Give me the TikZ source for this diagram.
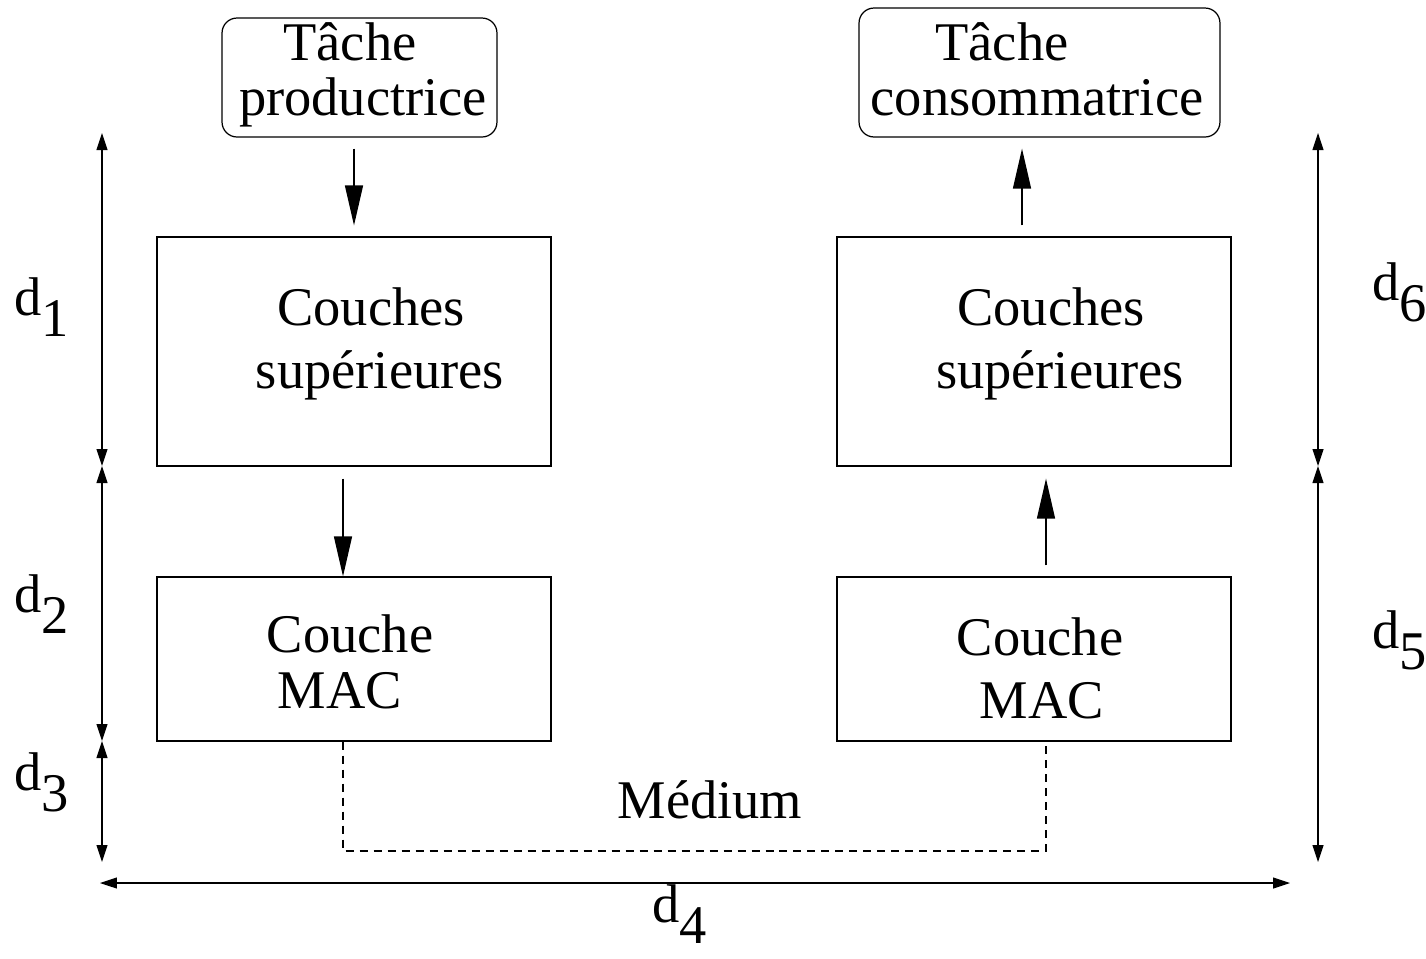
\documentclass[tikz,border=0pt]{standalone}
\usepackage{fontspec}
\setmainfont{Liberation Serif}
\usetikzlibrary{arrows.meta}
\newcommand{\dsub}[1]{d\raisebox{-0.4em}{#1}}

\begin{document}
\begin{tikzpicture}[
    x=0.02cm, y=-0.02cm,
    every node/.style={font=\fontsize{31}{32}\selectfont},
    task/.style={rectangle, draw, rounded corners=0.3cm, inner sep=0pt, line width=0.7pt},
    layer/.style={rectangle, draw, inner sep=0pt, minimum width=7.88cm, line width=0.7pt},
    txt/.style={anchor=base, inner sep=0pt},
    flow/.style={line width=0.8pt, -{Triangle[length=0.8cm, width=0.36cm]}},
    dim/.style={line width=0.6pt, {Triangle[length=0.34cm, width=0.22cm]}-{Triangle[length=0.34cm, width=0.22cm]}},
    medium/.style={line width=0.6pt, dash pattern=on 0.16cm off 0.12cm}
]
    \useasboundingbox (0,0) rectangle (1426,958);

    % Tasks
    \node [task, minimum width=5.5cm, minimum height=2.38cm] (prod) at (359.5,77.5) {};
    \node [task, minimum width=7.22cm, minimum height=2.58cm] (cons) at (1039.5,72.5) {};
    \node [txt] (prodA) at (350,60) {Tâche};
    \node [txt] (prodB) at (363,115) {productrice};
    \node [txt] (consA) at (1002,60) {Tâche};
    \node [txt] (consB) at (1037,115) {consommatrice};

    % Layers, left
    \node [layer, minimum height=4.58cm] (upL) at (354,351.5) {};
    \node [layer, minimum height=3.28cm] (macL) at (354,659) {};
    \node [txt] (upLA) at (371,325) {Couches};
    \node [txt] (upLB) at (380,388) {supérieures};
    \node [txt] (macLA) at (350,652) {Couche};
    \node [txt] (macLB) at (340,708) {MAC};

    % Layers, right
    \node [layer, minimum height=4.58cm] (upR) at (1034,351.5) {};
    \node [layer, minimum height=3.28cm] (macR) at (1034,659) {};
    \node [txt] (upRA) at (1051,325) {Couches};
    \node [txt] (upRB) at (1060,388) {supérieures};
    \node [txt] (macRA) at (1040,655) {Couche};
    \node [txt] (macRB) at (1042,718) {MAC};

    % Data flow
    \draw [flow, shorten <=0.22cm, shorten >=0.22cm] (upL.north |- prod.south) -- (upL.north);
    \draw [flow, shorten <=0.24cm] ([xshift=-0.22cm]upL.south) -- ([xshift=-0.22cm]macL.north);
    \draw [flow, shorten <=0.22cm, shorten >=0.24cm] ([xshift=0.24cm]macR.north) -- ([xshift=0.24cm]upR.south);
    \draw [flow, shorten <=0.22cm, shorten >=0.22cm] ([xshift=-0.24cm]upR.north) -- ([xshift=-0.24cm]upR.north |- cons.south);

    % Medium
    \draw [medium] ([xshift=-0.22cm]macL.south) |- (710,851) -| ([xshift=0.24cm]macR.south);
    \node [txt] (med) at (710,818) {Médium};

    % Dimensions
    \coordinate (lt) at (102,133);
    \coordinate (l1) at (102,466);
    \coordinate (l2) at (102,741);
    \coordinate (lb) at (102,862);
    \coordinate (rt) at (1318,133);
    \coordinate (r1) at (1318,466);
    \coordinate (rb) at (1318,862);
    \coordinate (bl) at (100,883);
    \coordinate (br) at (1290,883);
    \draw [dim] (lt) -- (l1);
    \draw [dim] (l1) -- (l2);
    \draw [dim] (l2) -- (lb);
    \draw [dim] (rt) -- (r1);
    \draw [dim] (r1) -- (rb);
    \draw [dim] (bl) -- (br);

    \node [txt, anchor=base west] (d1) at (14,315) {\dsub{1}};
    \node [txt, anchor=base west] (d2) at (14,612) {\dsub{2}};
    \node [txt, anchor=base west] (d3) at (14,790) {\dsub{3}};
    \node [txt, anchor=base west] (d4) at (652,922) {\dsub{4}};
    \node [txt, anchor=base west] (d5) at (1372,648) {\dsub{5}};
    \node [txt, anchor=base west] (d6) at (1372,300) {\dsub{6}};
\end{tikzpicture}
\end{document}
